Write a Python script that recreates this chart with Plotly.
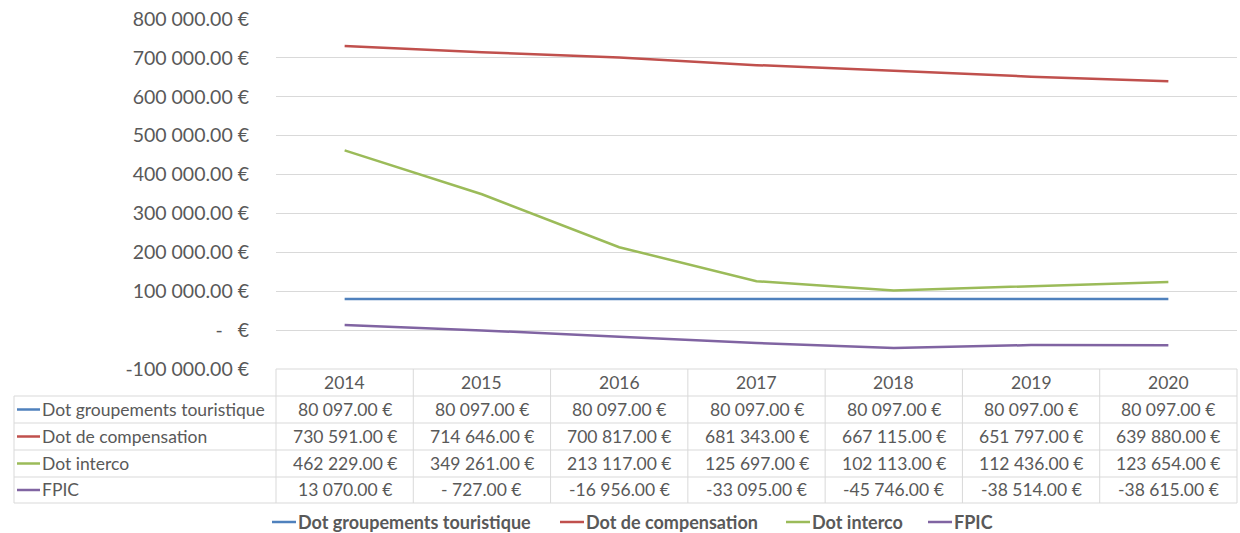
import plotly.graph_objects as go

# Data
years = ["2014", "2015", "2016", "2017", "2018", "2019", "2020"]
series_names = ["Dot groupements touristique", "Dot de compensation", "Dot interco", "FPIC"]
dot_groupements = [80097, 80097, 80097, 80097, 80097, 80097, 80097]
dot_compensation = [730591, 714646, 700817, 681343, 667115, 651797, 639880]
dot_interco = [462229, 349261, 213117, 125697, 102113, 112436, 123654]
fpic = [13070, -727, -16956, -33095, -45746, -38514, -38615]
y_ticks = [-100000, 0, 100000, 200000, 300000, 400000, 500000, 600000, 700000, 800000]

colors = ["#4F81BD", "#C0504D", "#9BBB59", "#8064A2"]
all_series = [dot_groupements, dot_compensation, dot_interco, fpic]

W, H = 1240, 533
FONT = "Lato"
TXT = "#595959"
GRID = "#d9d9d9"
TABLE_SIZE = 17.5

# plot area in pixels
X0, X1 = 276, 1237
Y0, Y1 = 19, 369


def px(x):
    return x / W


def py(y):
    return 1 - y / H


def eur(v):
    s = f"{abs(v):,.2f}".replace(",", " ")
    if abs(v) < 1000:
        s = " " + s
    return ("-" if v < 0 else "") + s + " €"


def tick_label(v):
    if v == 0:
        return "-   €"
    return eur(v)


fig = go.Figure()
xi = list(range(len(years)))
for name, vals, c in zip(series_names, all_series, colors):
    fig.add_trace(go.Scatter(x=xi, y=vals, mode="lines", name=name,
                             line=dict(color=c, width=2.5), showlegend=False))

shapes = []
annotations = []

# data table geometry
col_w = (X1 - X0) / len(years)
row_edges = [369, 396, 423, 450, 477, 503]
TBL_LEFT = 14

# horizontal borders
shapes.append(dict(type="line", xref="paper", yref="paper", x0=px(X0), x1=px(X1),
                   y0=py(row_edges[0]), y1=py(row_edges[0]), line=dict(color=GRID, width=1)))
for ye in row_edges[1:]:
    shapes.append(dict(type="line", xref="paper", yref="paper", x0=px(TBL_LEFT), x1=px(X1),
                       y0=py(ye), y1=py(ye), line=dict(color=GRID, width=1)))
# vertical borders
shapes.append(dict(type="line", xref="paper", yref="paper", x0=px(TBL_LEFT), x1=px(TBL_LEFT),
                   y0=py(row_edges[1]), y1=py(row_edges[-1]), line=dict(color=GRID, width=1)))
for k in range(len(years) + 1):
    xe = X0 + k * col_w
    shapes.append(dict(type="line", xref="paper", yref="paper", x0=px(xe), x1=px(xe),
                       y0=py(row_edges[0]), y1=py(row_edges[-1]), line=dict(color=GRID, width=1)))

# header row
for k, yr in enumerate(years):
    annotations.append(dict(xref="paper", yref="paper", x=px(X0 + (k + 0.5) * col_w),
                            y=py((row_edges[0] + row_edges[1]) / 2), text=yr, showarrow=False,
                            xanchor="center", yanchor="middle",
                            font=dict(family=FONT, size=TABLE_SIZE, color=TXT)))

# series rows
for r, (name, vals, c) in enumerate(zip(series_names, all_series, colors)):
    yc = (row_edges[r + 1] + row_edges[r + 2]) / 2
    shapes.append(dict(type="line", xref="paper", yref="paper", x0=px(17), x1=px(40),
                       y0=py(yc), y1=py(yc), line=dict(color=c, width=2.5)))
    annotations.append(dict(xref="paper", yref="paper", x=px(40), y=py(yc), text=name,
                            showarrow=False, xanchor="left", yanchor="middle",
                            font=dict(family=FONT, size=TABLE_SIZE, color=TXT)))
    for k, v in enumerate(vals):
        annotations.append(dict(xref="paper", yref="paper", x=px(X0 + (k + 0.5) * col_w),
                                y=py(yc), text=eur(v), showarrow=False,
                                xanchor="center", yanchor="middle",
                                font=dict(family=FONT, size=TABLE_SIZE, color=TXT)))

# legend below the table
legend_x = [272, 560, 786, 928]
LY = 522
for name, c, lx in zip(series_names, colors, legend_x):
    shapes.append(dict(type="line", xref="paper", yref="paper", x0=px(lx), x1=px(lx + 24),
                       y0=py(LY), y1=py(LY), line=dict(color=c, width=2.5)))
    annotations.append(dict(xref="paper", yref="paper", x=px(lx + 24), y=py(LY),
                            text="<b>" + name + "</b>", showarrow=False,
                            xanchor="left", yanchor="middle",
                            font=dict(family=FONT, size=18, color=TXT)))

fig.update_layout(
    width=W, height=H,
    margin=dict(l=0, r=0, t=0, b=0),
    paper_bgcolor="white", plot_bgcolor="white",
    shapes=shapes, annotations=annotations,
    xaxis=dict(domain=[px(X0), px(X1)], range=[-0.5, len(years) - 0.5],
               showticklabels=False, showgrid=False, zeroline=False, fixedrange=True),
    yaxis=dict(domain=[py(Y1), py(Y0)], range=[-100000, 800000],
               tickvals=y_ticks, ticktext=[tick_label(v) for v in y_ticks],
               showgrid=True, gridcolor=GRID, gridwidth=1, zeroline=False,
               ticklabelstandoff=26, automargin=False,
               tickfont=dict(family=FONT, size=19.5, color=TXT)),
)

fig.write_html("out.html")
